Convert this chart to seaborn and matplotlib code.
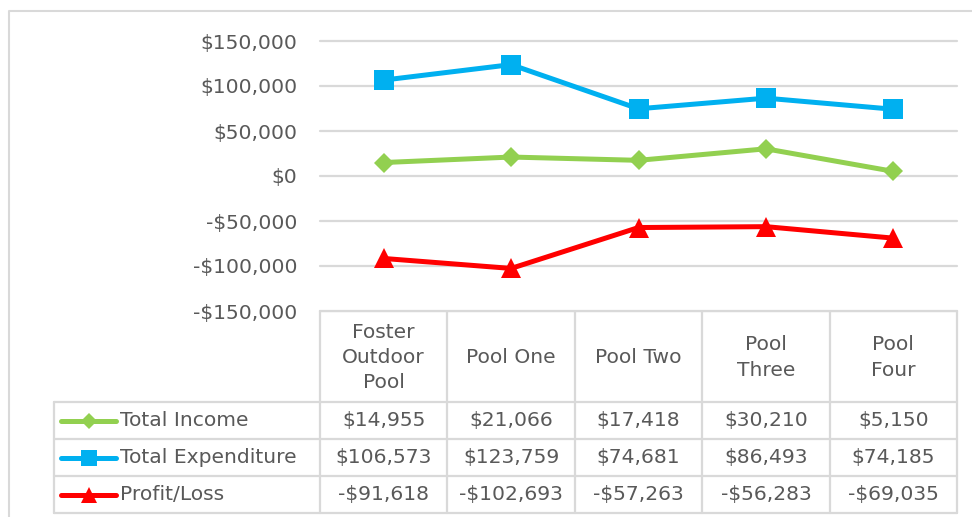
import pandas as pd
import seaborn as sns
import matplotlib.pyplot as plt

pools = ['Foster\nOutdoor\nPool', 'Pool One', 'Pool Two', 'Pool\nThree', 'Pool\nFour']
series_names = ['Total Income', 'Total Expenditure', 'Profit/Loss']
income = [14955, 21066, 17418, 30210, 5150]
expenditure = [106573, 123759, 74681, 86493, 74185]
profit = [-91618, -102693, -57263, -56283, -69035]
yticks = [-150000, -100000, -50000, 0, 50000, 100000, 150000]

colors = {'Total Income': '#92D050', 'Total Expenditure': '#00B0F0', 'Profit/Loss': '#FF0000'}
markers = {'Total Income': 'D', 'Total Expenditure': 's', 'Profit/Loss': '^'}
msizes = {'Total Income': 10.5, 'Total Expenditure': 14.5, 'Profit/Loss': 15}
text_color = '#595959'
grid_color = '#D9D9D9'

values = {'Total Income': income, 'Total Expenditure': expenditure, 'Profit/Loss': profit}
rows = []
for name in series_names:
    for i, v in enumerate(values[name]):
        rows.append({'series': name, 'pos': i, 'value': v})
df = pd.DataFrame(rows)


def money(v):
    return ('-$' if v < 0 else '$') + f'{abs(v):,.0f}'


sns.set_style('white')
plt.rcParams['font.family'] = ['DejaVu Sans']
fs = 14.6

W, H = 972, 517
fig = plt.figure(figsize=(W / 100, H / 100), dpi=100)

# plot area in pixel terms
px_left, px_top, px_right, px_bottom = 320, 41, 957, 311
ax = fig.add_axes([px_left / W, 1 - px_bottom / H, (px_right - px_left) / W, (px_bottom - px_top) / H])

for name in series_names:
    sns.lineplot(data=df[df['series'] == name], x='pos', y='value', ax=ax,
                 color=colors[name], marker=markers[name], markersize=msizes[name],
                 markeredgewidth=0, linewidth=3.6, legend=False, zorder=3)

ax.set_xlim(-0.5, len(pools) - 0.5)
ax.set_ylim(yticks[0], yticks[-1])
ax.set_yticks(yticks)
ax.set_yticklabels([money(v) for v in yticks], fontsize=fs, color=text_color)
ax.set_xticks([])
ax.set_xlabel('')
ax.set_ylabel('')
ax.tick_params(axis='y', length=0, pad=16.5)
ax.grid(axis='y', color=grid_color, linewidth=1.6)
for gl in ax.get_ygridlines():
    gl.set_clip_on(False)
ax.set_axisbelow(True)
sns.despine(ax=ax, left=True, bottom=True, top=True, right=True)

# overlay in pixel coordinates for the data table and frame
ov = fig.add_axes([0, 0, 1, 1], zorder=-1)
ov.set_xlim(0, W)
ov.set_ylim(H, 0)
ov.axis('off')

# outer chart frame (left and top visible)
ov.plot([9, 9, W + 5], [H + 5, 11, 11], color=grid_color, linewidth=1.5)

n = len(pools)
colw = (px_right - px_left) / n
tab_left = 54
header_bottom = 402
row_h = 37
row_tops = [header_bottom + k * row_h for k in range(len(series_names) + 1)]
lw_t = 1.6

# horizontal lines
ov.plot([px_left, px_right], [px_bottom, px_bottom], color=grid_color, lw=lw_t)
for y in row_tops:
    ov.plot([tab_left, px_right], [y, y], color=grid_color, lw=lw_t)
# vertical lines
ov.plot([tab_left, tab_left], [header_bottom, row_tops[-1]], color=grid_color, lw=lw_t)
for k in range(n + 1):
    x = px_left + k * colw
    ov.plot([x, x], [px_bottom, row_tops[-1]], color=grid_color, lw=lw_t)

# header labels
for k, p in enumerate(pools):
    ov.text(px_left + (k + 0.5) * colw, (px_bottom + header_bottom) / 2 + 1, p,
            ha='center', va='center', fontsize=fs, color=text_color, linespacing=1.42)

# data rows with legend keys
for r, name in enumerate(series_names):
    yc = row_tops[r] + row_h / 2
    ov.plot([61, 116], [yc, yc], color=colors[name], lw=3.6, solid_capstyle='round')
    ov.plot([88.5], [yc], color=colors[name], marker=markers[name],
            markersize=msizes[name] * 0.8, markeredgewidth=0)
    ov.text(120, yc, name, ha='left', va='center', fontsize=fs, color=text_color)
    for k, v in enumerate(values[name]):
        ov.text(px_left + (k + 0.5) * colw, yc, money(v),
                ha='center', va='center', fontsize=fs, color=text_color)

plt.savefig('out.png', dpi=100)
plt.close()
